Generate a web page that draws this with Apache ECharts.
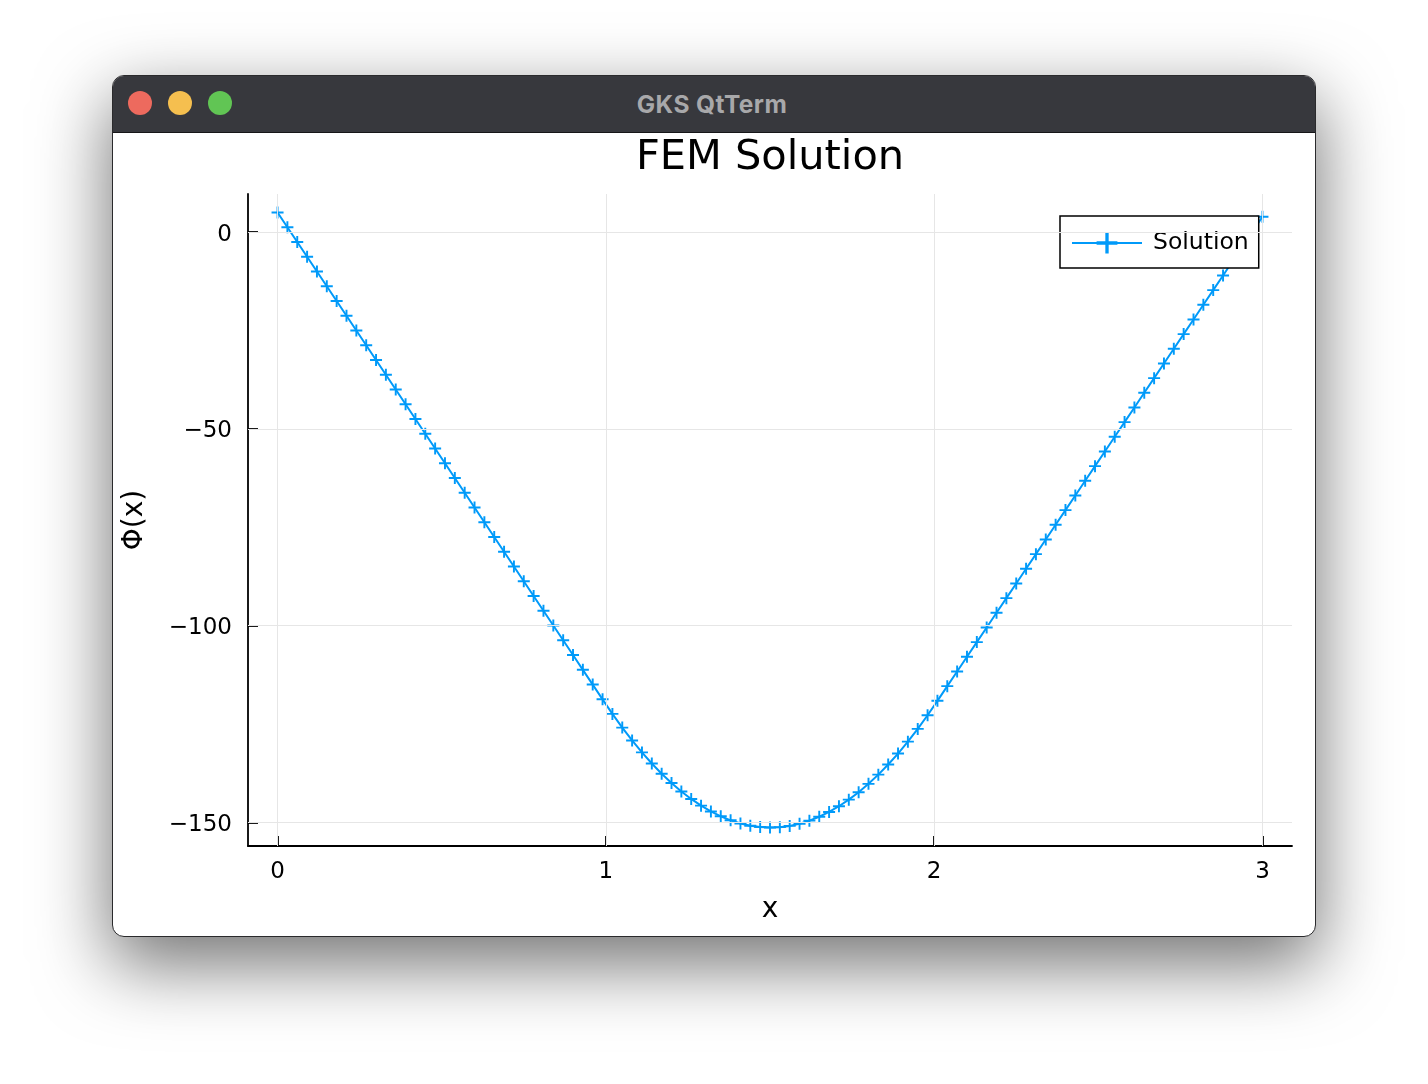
<!DOCTYPE html>
<html>
<head>
<meta charset="utf-8">
<script src="https://cdn.jsdelivr.net/npm/echarts@6/dist/echarts.min.js"></script>
<style>
  html, body { margin: 0; padding: 0; width: 1428px; height: 1084px; background: #ffffff; overflow: hidden; }
  #win { position: absolute; left: 112px; top: 75px; width: 1202px; height: 860px; border: 1px solid #2a2a2c;
         border-radius: 12px; background: #ffffff; overflow: hidden; box-shadow: 0 26px 72px 2px rgba(0,0,0,0.55); }
  #bar { position: absolute; left: 0; top: 0; width: 100%; height: 56px; background: #37383d; border-bottom: 1px solid #161618; }
  .dot { position: absolute; top: 15px; width: 24px; height: 24px; border-radius: 50%; }
  #wtitle { position: absolute; left: 0; top: 0; width: 100%; height: 56px; line-height: 56px; text-align: center;
            font-family: Inter, "Open Sans", sans-serif; font-weight: 700; font-size: 24.5px; letter-spacing: 0.4px; color: #a8a8aa;
            text-indent: -4px; }
  #chart { position: absolute; left: 0; top: 0; width: 1428px; height: 1084px; }
</style>
</head>
<body>
<div id="win">
  <div id="bar">
    <div class="dot" style="left:15px;background:#ed6a5e"></div>
    <div class="dot" style="left:55px;background:#f5bf4f"></div>
    <div class="dot" style="left:95px;background:#61c554"></div>
    <div id="wtitle">GKS QtTerm</div>
  </div>
</div>
<div id="chart"></div>
<script>
const xs = [0,0.03,0.06,0.09,0.12,0.15,0.18,0.21,0.24,0.27,0.3,0.33,0.36,0.39,0.42,0.45,0.48,0.51,0.54,0.57,
  0.6,0.63,0.66,0.69,0.72,0.75,0.78,0.81,0.84,0.87,0.9,0.93,0.96,0.99,1.02,1.05,1.08,1.11,1.14,1.17,
  1.2,1.23,1.26,1.29,1.32,1.35,1.38,1.41,1.44,1.47,1.5,1.53,1.56,1.59,1.62,1.65,1.68,1.71,1.74,1.77,
  1.8,1.83,1.86,1.89,1.92,1.95,1.98,2.01,2.04,2.07,2.1,2.13,2.16,2.19,2.22,2.25,2.28,2.31,2.34,2.37,
  2.4,2.43,2.46,2.49,2.52,2.55,2.58,2.61,2.64,2.67,2.7,2.73,2.76,2.79,2.82,2.85,2.88,2.91,2.94,2.97,3];
const phi = [5,1.25,-2.5,-6.25,-10,-13.75,-17.5,-21.25,-25,-28.75,-32.5,-36.25,-40,-43.75,-47.5,-51.25,-55,-58.75,-62.5,-66.25,
  -70,-73.75,-77.5,-81.25,-85,-88.75,-92.5,-96.25,-100,-103.75,-107.5,-111.25,-115,-118.75,-122.45,-125.94,-129.2,-132.24,-135.06,-137.65,
  -140.01,-142.16,-144.07,-145.77,-147.24,-148.48,-149.5,-150.3,-150.87,-151.22,-151.34,-151.24,-150.92,-150.37,-149.59,-148.59,-147.37,-145.92,-144.25,-142.35,
  -140.23,-137.89,-135.32,-132.53,-129.51,-126.27,-122.8,-119.13,-115.4,-111.67,-107.94,-104.21,-100.49,-96.76,-93.03,-89.3,-85.57,-81.85,-78.12,-74.39,
  -70.66,-66.93,-63.21,-59.48,-55.75,-52.02,-48.29,-44.57,-40.84,-37.11,-33.38,-29.65,-25.92,-22.2,-18.47,-14.74,-11.01,-7.28,-3.56,0.17,3.9];
const xTicks = [0, 1, 2, 3];
const yTicks = [-150, -100, -50, 0];
const seriesName = 'Solution';
const titleText = 'FEM Solution';
const xName = 'x';
const yName = 'Φ(x)';

const BLUE = '#009af9';
const FONT = '"DejaVu Sans", sans-serif';
const plus = 'path://M4.2,0H5.8V4.2H10V5.8H5.8V10H4.2V5.8H0V4.2H4.2Z';
const data = xs.map((x, i) => [x, phi[i]]);
const gridColor = '#e6e6e6';
const fmt = v => '{a|' + String(v).replace('-', '\u2212') + '}';

const chart = echarts.init(document.getElementById('chart'), null, { renderer: 'canvas' });
chart.setOption({
  backgroundColor: 'transparent',
  animation: false,
  textStyle: { fontFamily: FONT },
  graphic: [{
    type: 'text', x: 770, y: 158, silent: true,
    style: { text: titleText, fontFamily: FONT, fontSize: 41.5, fill: '#000', align: 'center', verticalAlign: 'middle' }
  }],
  grid: { left: 248, top: 194, right: 136, bottom: 238, containLabel: false },
  legend: {
    data: [seriesName], left: 1060, top: 216,
    padding: [15, 10, 13, 11], itemWidth: 70, itemHeight: 26, itemGap: 0,
    backgroundColor: '#fff', borderColor: '#000', borderWidth: 1.5, borderRadius: 0,
    textStyle: { fontFamily: FONT, fontSize: 23.5, color: '#000', padding: [0, 0, 0, 6] }
  },
  xAxis: {
    type: 'value', min: -0.09, max: 3.09,
    name: xName, nameLocation: 'middle', nameGap: 50,
    nameTextStyle: { fontFamily: FONT, fontSize: 28, color: '#000' },
    axisLine: { show: true, onZero: false, lineStyle: { color: '#000', width: 1.8 } },
    axisTick: { show: true, inside: true, length: 10, customValues: xTicks, lineStyle: { color: '#000', width: 1.8 } },
    axisLabel: { show: true, customValues: xTicks, margin: 15, fontFamily: FONT, fontSize: 23, color: '#000',
      formatter: fmt, rich: { a: { fontFamily: FONT, fontSize: 23, color: '#000' } } },
    splitLine: { show: false }
  },
  yAxis: {
    type: 'value', min: -156.03, max: 9.69,
    name: yName, nameLocation: 'middle', nameGap: 99, nameRotate: 90,
    nameTextStyle: { fontFamily: FONT, fontSize: 28, color: '#000' },
    axisLine: { show: true, onZero: false, lineStyle: { color: '#000', width: 1.8 } },
    axisTick: { show: true, inside: true, length: 10, customValues: yTicks, lineStyle: { color: '#000', width: 1.8 } },
    axisLabel: { show: true, customValues: yTicks, margin: 16, fontFamily: FONT, fontSize: 23, color: '#000',
      formatter: fmt, rich: { a: { fontFamily: FONT, fontSize: 23, color: '#000', padding: [5, 0, 0, 0] } } },
    splitLine: { show: false }
  },
  series: [
    {
      name: 'grid', type: 'line', data: [], z: 0, silent: true,
      markLine: {
        silent: true, symbol: 'none', animation: false,
        label: { show: false },
        lineStyle: { color: gridColor, width: 1, type: 'solid' },
        emphasis: { disabled: true },
        data: xTicks.map(v => ({ xAxis: v })).concat(yTicks.map(v => ({ yAxis: v })))
      }
    },
    {
      name: seriesName, type: 'line', data: data, z: 3,
      symbol: plus, symbolSize: 12, showAllSymbol: true,
      lineStyle: { color: BLUE, width: 2 },
      itemStyle: { color: BLUE, borderWidth: 0 },
      emphasis: { disabled: true }
    }
  ]
});
</script>
</body>
</html>
